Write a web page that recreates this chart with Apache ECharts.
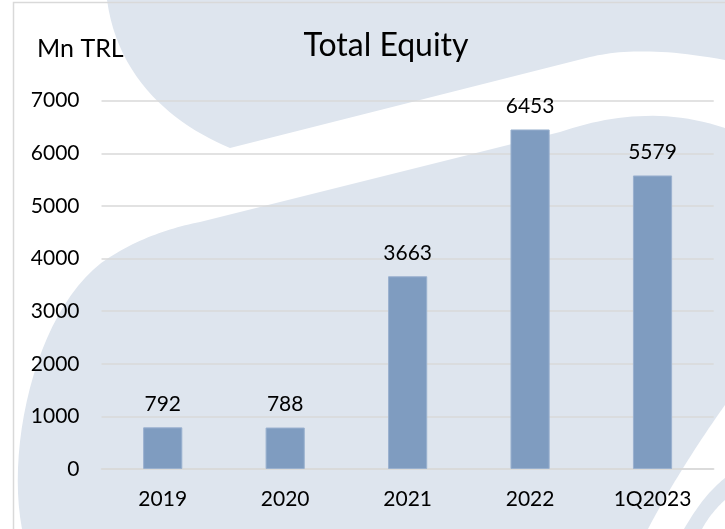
<!DOCTYPE html>
<html>
<head>
<meta charset="utf-8">
<script src="https://cdn.jsdelivr.net/npm/echarts@6/dist/echarts.min.js"></script>
<style>html,body{margin:0;padding:0;background:#fff}#c{width:725px;height:529px}</style>
</head>
<body>
<div id="c"></div>
<script>
var categories = ["2019", "2020", "2021", "2022", "1Q2023"];
var equityValues = [792, 788, 3663, 6453, 5579];
var yTicks = [0, 1000, 2000, 3000, 4000, 5000, 6000, 7000];
var titleText = "Total Equity";
var unitText = "Mn TRL";

var FONT = "Lato";
var shapeColor = "#dee5ee";

// decorative background outline builder (cubic segments sampled to polygon points)
function outline(start, segs) {
  var pts = [start.slice()];
  var cur = start.slice();
  segs.forEach(function (s) {
    if (s.length === 2) { pts.push(s.slice()); cur = s.slice(); return; }
    var p0 = cur, p1 = s[0], p2 = s[1], p3 = s[2];
    for (var i = 1; i <= 24; i++) {
      var t = i / 24, u = 1 - t;
      pts.push([
        u*u*u*p0[0] + 3*u*u*t*p1[0] + 3*u*t*t*p2[0] + t*t*t*p3[0],
        u*u*u*p0[1] + 3*u*u*t*p1[1] + 3*u*t*t*p2[1] + t*t*t*p3[1]
      ]);
    }
    cur = p3.slice();
  });
  return pts;
}

var shapeA = outline([107, 0], [[[118, 80], [175, 125], [230, 148]], [590, 57], [[620, 50], [660, 48], [725, 60]], [725, 0]]);
var shapeB = outline([22, 529], [[[5, 440], [40, 300], [110, 257]], [[140, 238], [170, 228], [200, 222]], [560, 132], [[610, 115], [665, 108], [725, 128]], [725, 529]]);
var shapeC = outline([725, 405], [[[700, 440], [668, 490], [648, 529]], [725, 529]]);
var shapeD = outline([684, 529], [[[698, 505], [710, 490], [725, 478]], [725, 500], [[716, 508], [708, 518], [702, 529]]]);

var chart = echarts.init(document.getElementById("c"));
chart.setOption({
  animation: false,
  backgroundColor: "#ffffff",
  textStyle: { fontFamily: FONT },
  graphic: [
    { type: "polygon", z: -10, silent: true, shape: { points: shapeA }, style: { fill: shapeColor } },
    { type: "polygon", z: -10, silent: true, shape: { points: shapeB }, style: { fill: shapeColor } },
    { type: "polygon", z: -9, silent: true, shape: { points: shapeC }, style: { fill: "#ffffff" } },
    { type: "polygon", z: -8, silent: true, shape: { points: shapeD }, style: { fill: shapeColor } },
    { type: "rect", z: 100, silent: true, shape: { x: 13.5, y: 2.5, width: 800, height: 600 }, style: { fill: "none", stroke: "#d9d9d9", lineWidth: 1.5 } }
  ],
  title: [
    { text: titleText, left: 381, top: 25, textAlign: "center", textStyle: { fontFamily: FONT, fontSize: 32, fontWeight: "normal", color: "#000" } },
    { text: unitText, left: 32, top: 31, textStyle: { fontFamily: FONT, fontSize: 25, fontWeight: "normal", color: "#000" } }
  ],
  grid: { left: 101.5, right: 11.25, top: 100.7, bottom: 60 },
  xAxis: {
    type: "category",
    data: categories,
    axisLine: { show: true, lineStyle: { color: "#d9d9d9", width: 1.5 } },
    axisTick: { show: false },
    axisLabel: { color: "#000", fontFamily: FONT, fontSize: 21, margin: 20 }
  },
  yAxis: {
    type: "value",
    min: yTicks[0],
    max: yTicks[yTicks.length - 1],
    interval: yTicks[1] - yTicks[0],
    axisLine: { show: false },
    axisTick: { show: false },
    splitLine: { lineStyle: { color: "#d9d9d9", width: 1.5 } },
    axisLabel: { color: "#000", fontFamily: FONT, fontSize: 21, margin: 22, formatter: function (v) { return String(v); } }
  },
  series: [{
    type: "bar",
    data: equityValues,
    barWidth: "32%",
    itemStyle: { color: "#7f9cc0", borderColor: "#9ab1cf", borderWidth: 1 },
    label: { show: true, position: "top", distance: 13, color: "#000", fontFamily: FONT, fontSize: 21 }
  }]
});
</script>
</body>
</html>
